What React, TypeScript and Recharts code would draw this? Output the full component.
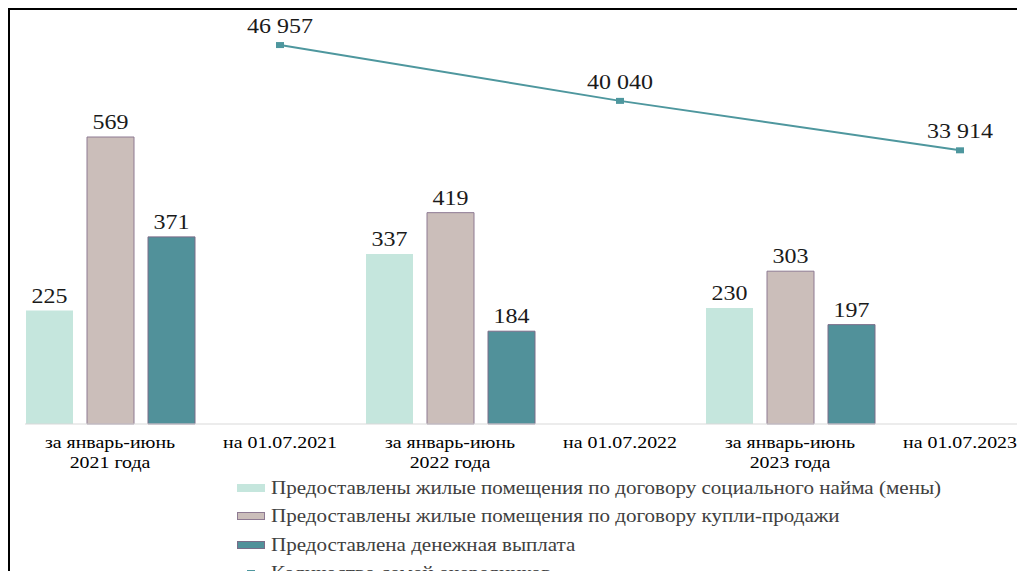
import React from "react";
import { ComposedChart, Bar, Line, XAxis, YAxis, LabelList } from "recharts";

const categories = [
  "за январь-июнь\n2021 года",
  "на 01.07.2021",
  "за январь-июнь\n2022 года",
  "на 01.07.2022",
  "за январь-июнь\n2023 года",
  "на 01.07.2023",
];
const socialRent = [225, null, 337, null, 230, null];
const purchase = [569, null, 419, null, 303, null];
const payment = [371, null, 184, null, 197, null];
const queueFamilies = [null, 46957, null, 40040, null, 33914];

const seriesNames = [
  "Предоставлены жилые помещения по договору социального найма (мены)",
  "Предоставлены жилые помещения по договору купли-продажи",
  "Предоставлена денежная выплата",
  "Количество семей очередников",
];
const unitText = "(единиц)";

const C_SOCIAL = "#C5E6DD";
const C_PURCHASE = "#CBBEBA";
const C_PURCHASE_STROKE = "#8E7A92";
const C_PAYMENT = "#51919A";
const C_PAYMENT_STROKE = "#7A6C88";
const C_LINE = "#4E979E";

const data = categories.map((c, i) => ({
  cat: c,
  social: socialRent[i],
  purchase: purchase[i],
  payment: payment[i],
  queue: queueFamilies[i],
}));

const FONT = '"Liberation Serif"';
const SX = 1.17;

const fmt = (v: number) => String(v).replace(/\B(?=(\d{3})+(?!\d))/g, " ");

const CatTick = (props: any) => {
  const { x, y, payload } = props;
  const lines = String(payload.value).split("\n");
  return (
    <g transform={`translate(${x},${y})`}>
      <text
        transform={`scale(${SX},1)`}
        textAnchor="middle"
        style={{ fontFamily: FONT, fontSize: 17 }}
        fill="#000"
      >
        {lines.map((l, i) => (
          <tspan key={i} x={0} dy={i === 0 ? 24 : 20}>
            {l}
          </tspan>
        ))}
      </text>
    </g>
  );
};

const BarLabel = (props: any) => {
  const { x, y, width, value } = props;
  if (value == null) return null;
  return (
    <g transform={`translate(${x + width / 2},${y - 8})`}>
      <text transform={`scale(${SX},1)`} textAnchor="middle" style={{ fontFamily: FONT, fontSize: 20.5 }} fill="#1a1a1a">
        {fmt(value)}
      </text>
    </g>
  );
};

const LineLabel = (props: any) => {
  const { x, y, value } = props;
  if (value == null) return null;
  return (
    <g transform={`translate(${x},${y - 12})`}>
      <text transform={`scale(${SX},1)`} textAnchor="middle" style={{ fontFamily: FONT, fontSize: 20.5 }} fill="#1a1a1a">
        {fmt(value)}
      </text>
    </g>
  );
};

const SquareDot = (props: any) => {
  const { cx, cy, value } = props;
  if (value == null || cx == null || cy == null) return <g />;
  return <rect x={cx - 4} y={cy - 3} width={8} height={6} fill={C_LINE} />;
};

const Swatch = ({ i }: { i: number }) => {
  if (i === 3) {
    return (
      <svg width={32} height={10} style={{ display: "block" }}>
        <line x1={1} y1={5} x2={31} y2={5} stroke={C_LINE} strokeWidth={2} />
        <rect x={12} y={2} width={8} height={6} fill={C_LINE} />
      </svg>
    );
  }
  const fills = [C_SOCIAL, C_PURCHASE, C_PAYMENT];
  const strokes = [C_SOCIAL, C_PURCHASE_STROKE, C_PAYMENT_STROKE];
  return (
    <svg width={32} height={10} style={{ display: "block" }}>
      <rect x={2.5} y={1.5} width={27} height={7} fill={fills[i]} stroke={strokes[i]} strokeWidth={1} />
    </svg>
  );
};

export default function App() {
  return (
    <div
      style={{
        position: "relative",
        margin: -8,
        width: 1025,
        height: 579,
        overflow: "hidden",
        background: "#fff",
        fontFamily: FONT,
      }}
    >
      <div
        style={{
          position: "absolute",
          right: 4,
          top: -12,
          fontSize: 17,
          color: "#000",
          fontFamily: FONT,
          transform: `scale(${SX},1)`,
          transformOrigin: "right top",
          whiteSpace: "nowrap",
        }}
      >
        {unitText}
      </div>
      <div
        style={{
          position: "absolute",
          left: 7,
          top: 7,
          width: 1100,
          height: 700,
          border: "3px solid #000",
          boxSizing: "border-box",
        }}
      />
      <div style={{ position: "absolute", left: 0, top: 0 }}>
        <ComposedChart
          width={1060}
          height={579}
          data={data}
          margin={{ top: 20.5, right: 15, left: 25, bottom: 95 }}
          barGap={14}
          barCategoryGap={0}
        >
          <XAxis
            dataKey="cat"
            interval={0}
            axisLine={{ stroke: "#D9D9D9", strokeWidth: 1 }}
            tickLine={false}
            tickSize={0}
            tickMargin={0}
            height={60}
            tick={<CatTick />}
          />
          <YAxis yAxisId="left" hide domain={[0, 800]} />
          <YAxis yAxisId="right" hide orientation="right" domain={[0, 50000]} />
          <Bar yAxisId="left" dataKey="social" name={seriesNames[0]} fill={C_SOCIAL} barSize={47} isAnimationActive={false}>
            <LabelList dataKey="social" content={<BarLabel />} />
          </Bar>
          <Bar
            yAxisId="left"
            dataKey="purchase"
            name={seriesNames[1]}
            fill={C_PURCHASE}
            stroke={C_PURCHASE_STROKE}
            strokeWidth={1}
            barSize={47}
            isAnimationActive={false}
          >
            <LabelList dataKey="purchase" content={<BarLabel />} />
          </Bar>
          <Bar
            yAxisId="left"
            dataKey="payment"
            name={seriesNames[2]}
            fill={C_PAYMENT}
            stroke={C_PAYMENT_STROKE}
            strokeWidth={1}
            barSize={47}
            isAnimationActive={false}
          >
            <LabelList dataKey="payment" content={<BarLabel />} />
          </Bar>
          <Line
            yAxisId="right"
            dataKey="queue"
            name={seriesNames[3]}
            stroke={C_LINE}
            strokeWidth={2}
            connectNulls
            dot={<SquareDot />}
            activeDot={false}
            isAnimationActive={false}
          >
            <LabelList dataKey="queue" content={<LineLabel />} />
          </Line>
        </ComposedChart>
      </div>
      <div style={{ position: "absolute", left: 235, top: 474 }}>
        {seriesNames.map((n, i) => (
          <div key={i} style={{ display: "flex", alignItems: "center", height: 28.3 }}>
            <Swatch i={i} />
            <span
              style={{
                fontSize: 18,
                lineHeight: "20px",
                fontFamily: FONT,
                color: "#404040",
                whiteSpace: "nowrap",
                transform: `scale(${SX},1)`,
                transformOrigin: "left center",
                display: "inline-block",
                marginLeft: 4,
              }}
            >
              {n}
            </span>
          </div>
        ))}
      </div>
    </div>
  );
}
